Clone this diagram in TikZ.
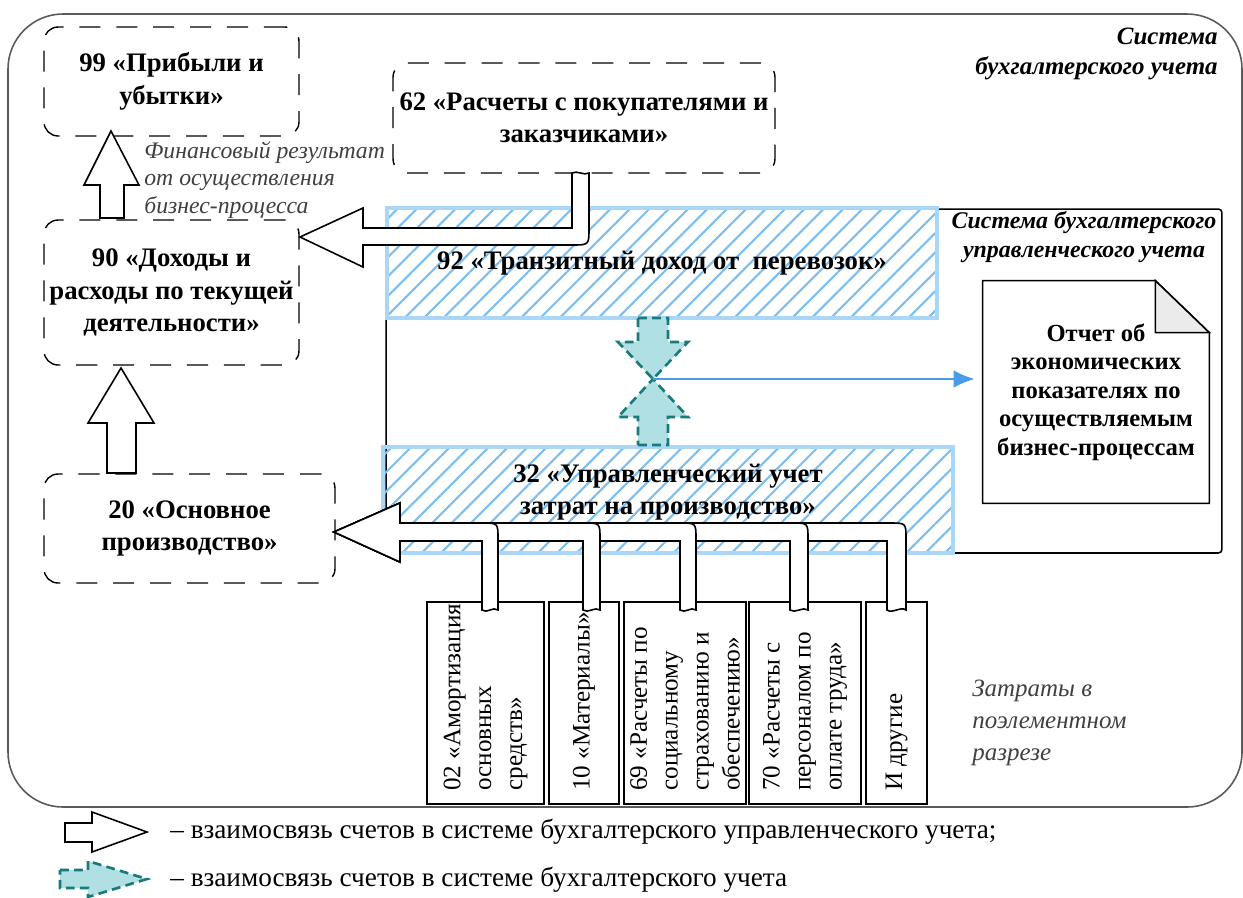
\documentclass[tikz,border=0pt]{standalone}
\usepackage{fontspec}
\setmainfont{Liberation Serif}
\usetikzlibrary{patterns.meta,arrows.meta}
\definecolor{hatchblue}{RGB}{170,214,247}
\definecolor{hatchline}{RGB}{125,190,240}
\definecolor{tealfill}{RGB}{176,224,228}
\definecolor{tealline}{RGB}{24,122,122}
\definecolor{linkblue}{RGB}{74,155,232}
\definecolor{framegray}{RGB}{90,90,90}
\newcommand\boxfont{\fontsize{15.2}{18.5}\selectfont\bfseries}

\begin{document}
\begin{tikzpicture}[x=0.02cm,y=-0.02cm,line join=miter,
    acct/.style={draw,line width=0.8pt,dash pattern=on 12pt off 9pt,rounded corners=8pt,align=center,inner sep=0pt,font=\boxfont},
    hatchbox/.style={draw=hatchblue,line width=2.4pt,pattern={Lines[angle=45,distance=7.8pt,line width=1.2pt]},pattern color=hatchline,inner sep=0pt,align=center,font=\boxfont},
    costbox/.style={draw,line width=0.9pt,inner sep=0pt},
    costtext/.style={rotate=90,anchor=west,align=left,inner sep=0pt,font=\fontsize{14.3}{17.6}\selectfont},
    whitearrow/.style={draw,fill=white,line width=0.9pt},
    tealarrow/.style={draw=tealline,fill=tealfill,line width=1.5pt,dash pattern=on 5pt off 3pt},
    note/.style={text=black!75,align=left,inner sep=0pt}]
    \useasboundingbox (0,0) rectangle (1243,897);

    % Accounting system frame.
    \draw[framegray,line width=0.9pt,rounded corners=1.1cm] (8,14) rectangle (1242,807);
    \node[font=\fontsize{14.2}{17}\selectfont\bfseries\itshape,align=right,anchor=north east,inner sep=0pt] (sysacc) at (1218,28) {Система\\бухгалтерского учета};

    % Management accounting system.
    \node[draw,line width=0.9pt,rounded corners=2pt,minimum width=16.72cm,minimum height=6.88cm,inner sep=0pt] (mgmt) at (804,381) {};
    \node[font=\fontsize{13.6}{16}\selectfont\bfseries\itshape,align=center,inner sep=0pt] (sysmgmt) at (1084,237) {Система бухгалтерского\\управленческого учета};

    \node[hatchbox,minimum width=11cm,minimum height=2.2cm] (b92) at (662,263) {92 «Транзитный доход от~~перевозок»};
    \node[hatchbox,minimum width=11.4cm,minimum height=2.12cm,label={[font=\boxfont,align=center,yshift=0.16cm]center:32 «Управленческий учет\\затрат на производство»}] (b32) at (668,500) {};

    % Links inside the accounting system.
    \coordinate (meet) at (653,379);
    \draw[tealarrow] (638,318) -- (668,318) -- (668,342) -- (688,342) -- (meet) -- (618,342) -- (638,342) -- cycle;
    \draw[tealarrow] (638,445) -- (668,445) -- (668,417) -- (688,417) -- (meet) -- (618,417) -- (638,417) -- cycle;

    % Report.
    \node[minimum width=4.52cm,minimum height=4.44cm,inner sep=0pt,align=center,font=\fontsize{14}{16.2}\selectfont\bfseries] (report) at (1096,392) {Отчет об\\экономических\\показателях по\\осуществляемым\\бизнес-процессам};
    \draw[line width=0.9pt] (report.north west) -- ([xshift=-1.08cm]report.north east) -- ([yshift=-1.04cm]report.north east) -- (report.south east) -- (report.south west) -- cycle;
    \filldraw[line width=0.9pt,fill=black!8] ([xshift=-1.08cm]report.north east) -- ([xshift=-1.08cm,yshift=-1.04cm]report.north east) -- ([yshift=-1.04cm]report.north east) -- cycle;
    \draw[linkblue,line width=1.3pt,-{Latex[length=12pt,width=10pt]},shorten >=4.5pt] (meet) -- (meet -| report.west);

    % Financial accounts.
    \node[acct,minimum width=5.1cm,minimum height=2.18cm] (b99) at (171.5,81.5) {99 «Прибыли и\\убытки»};
    \node[acct,minimum width=7.64cm,minimum height=2.2cm] (b62) at (584,118) {62 «Расчеты с покупателями и\\заказчиками»};
    \node[acct,minimum width=5.1cm,minimum height=2.9cm] (b90) at (171.5,292.5) {90 «Доходы и\\расходы по текущей\\деятельности»};
    \node[acct,minimum width=5.82cm,minimum height=2.18cm] (b20) at (189.5,528.5) {20 «Основное\\производство»};
    \node[note,anchor=north west,font=\fontsize{13.5}{15.6}\selectfont\itshape] (finres) at (144,141) {Финансовый результат\\от осуществления\\бизнес-процесса};

    % Cost elements.
    \node[costbox,minimum width=2.34cm,minimum height=4.04cm] (c02) at (485.5,703) {};
    \node[costbox,minimum width=1.4cm,minimum height=4.04cm] (c10) at (584,703) {};
    \node[costbox,minimum width=2.44cm,minimum height=4.04cm] (c69) at (685,703) {};
    \node[costbox,minimum width=2.24cm,minimum height=4.04cm] (c70) at (805,703) {};
    \node[costbox,minimum width=1.22cm,minimum height=4.04cm] (cother) at (896.5,703) {};
    \node[costtext] (t02) at (485.5,791) {02 «Амортизация\\основных\\средств»};
    \node[costtext] (t10) at (584,791) {10 «Материалы»};
    \node[costtext] (t69) at (685,791) {69 «Расчеты по\\социальному\\страхованию и\\обеспечению»};
    \node[costtext] (t70) at (805,791) {70 «Расчеты с\\персоналом по\\оплате труда»};
    \node[costtext] (tother) at (896.5,791) {И другие};
    \node[note,anchor=north west,font=\fontsize{14.2}{18}\selectfont\itshape] (elem) at (972,680) {Затраты в\\поэлементном\\разрезе};

    % Block arrows between accounts.
    \draw[whitearrow] (100,218) -- (100,185) -- (84,185) -- (111,131) -- (139,185) -- (124,185) -- (124,218) -- cycle;
    \draw[whitearrow] (107,473) -- (107,423) -- (88,423) -- (121,368) -- (154,423) -- (136,423) -- (136,473) -- cycle;
    \draw[whitearrow] (300,237) -- (363,208) -- (363,228) -- (572,228) -- (572,173) .. controls (577,170) and (584,176) .. (589,173) -- (589,228) .. controls (589,245) .. (572,245) -- (363,245) -- (363,267) -- cycle;
    \draw[whitearrow] (334,532) -- (400,503) -- (400,523) -- (890,523) .. controls (906,523) .. (906,539) -- (906,610) .. controls (901,606) and (892,614) .. (887,610) -- (887,541) -- (400,541) -- (400,562) -- cycle;
    \draw[whitearrow] (334,532) -- (400,503) -- (400,523) -- (792,523) .. controls (808,523) .. (808,539) -- (808,610) .. controls (803,606) and (795,614) .. (790,610) -- (790,541) -- (400,541) -- (400,562) -- cycle;
    \draw[whitearrow] (334,532) -- (400,503) -- (400,523) -- (680,523) .. controls (696,523) .. (696,539) -- (696,610) .. controls (691,606) and (685,614) .. (680,610) -- (680,541) -- (400,541) -- (400,562) -- cycle;
    \draw[whitearrow] (334,532) -- (400,503) -- (400,523) -- (584,523) .. controls (600,523) .. (600,539) -- (600,610) .. controls (595,606) and (588,614) .. (583,610) -- (583,541) -- (400,541) -- (400,562) -- cycle;
    \draw[whitearrow] (334,532) -- (400,503) -- (400,523) -- (482,523) .. controls (498,523) .. (498,539) -- (498,610) .. controls (493,606) and (487,614) .. (482,610) -- (482,541) -- (400,541) -- (400,562) -- cycle;

    % Legend.
    \draw[whitearrow] (65,823) -- (92,823) -- (92,812) -- (147,832) -- (92,852) -- (92,842) -- (65,842) -- cycle;
    \node[anchor=west,inner sep=0pt,font=\fontsize{15.5}{18}\selectfont] (leg1) at (170,832) {– взаимосвязь счетов в системе бухгалтерского управленческого учета;};
    \draw[tealarrow] (60,870) -- (88,870) -- (88,861) -- (147,879) -- (88,897) -- (88,888) -- (60,888) -- cycle;
    \node[anchor=west,inner sep=0pt,font=\fontsize{15.5}{18}\selectfont] (leg2) at (170,880) {– взаимосвязь счетов в системе бухгалтерского учета};
\end{tikzpicture}
\end{document}
